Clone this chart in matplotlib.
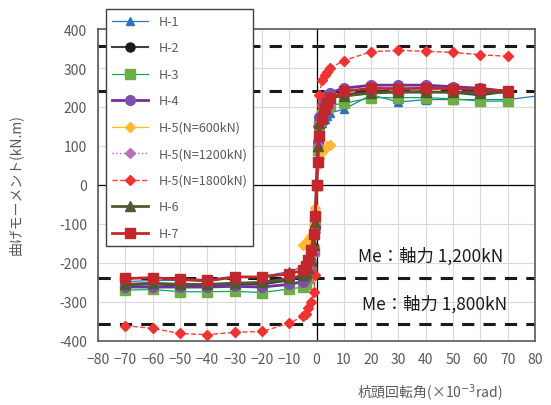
import numpy as np
import matplotlib.pyplot as plt

plt.rcParams['font.family'] = ['Noto Sans CJK JP', 'DejaVu Sans']

# rotation angle (x10^-3 rad) and moment (kN.m)
x_full = [-70, -60, -50, -40, -30, -20, -10, -5, -4, -3, -2, -1, -0.5, 0,
          0.5, 1, 2, 3, 4, 5, 10, 20, 30, 40, 50, 60, 70]
x_h1 = x_full + [85]
x_near = [-5, -4, -3, -2, -1, -0.5, 0, 0.5, 1, 2, 3, 4, 5]

h1 = [-248, -245, -245, -248, -238, -235, -222, -210, -200, -185, -160, -120, -70, 0,
      70, 130, 160, 170, 176, 185, 194, 231, 213, 219, 219, 219, 219, 232]
h2 = [-257, -255, -258, -258, -255, -255, -245, -235, -228, -215, -195, -160, -100, 0,
      100, 165, 195, 210, 218, 225, 232, 240, 240, 240, 237, 230, 240]
h3 = [-270, -268, -274, -274, -273, -276, -267, -262, -255, -240, -215, -170, -100, 0,
      90, 150, 180, 195, 200, 205, 209, 224, 224, 224, 221, 215, 215]
h4 = [-262, -262, -262, -262, -260, -262, -255, -248, -240, -225, -205, -170, -110, 0,
      110, 175, 205, 222, 230, 237, 248, 256, 256, 256, 252, 248, 240]
h5_600 = [-155, -148, -140, -130, -100, -60, 0, 50, 70, 85, 95, 100, 103]
h5_1200 = [-230, -222, -210, -195, -170, -120, 0, 100, 160, 185, 195, 200, 205]
h5_1800 = [-361, -368, -381, -384, -378, -376, -355, -337, -330, -315, -300, -274, -230, 0,
           150, 232, 269, 282, 290, 300, 319, 342, 345, 343, 340, 334, 330]
h6 = [-255, -252, -255, -255, -252, -250, -240, -232, -225, -212, -192, -155, -95, 0,
      100, 160, 192, 208, 218, 225, 228, 236, 238, 238, 238, 237, 238]
h7 = [-240, -238, -242, -245, -236, -236, -228, -219, -208, -192, -166, -125, -80, 0,
      60, 125, 170, 195, 210, 222, 240, 248, 247, 248, 247, 245, 241]

me_levels = [240, 357]

fig = plt.figure(figsize=(5.51, 4.06), dpi=100)
ax = fig.add_axes([0.178, 0.158, 0.793, 0.768])

ax.grid(True, color='#d9d9d9', linewidth=0.8)
ax.set_axisbelow(True)
ax.axhline(0, color='black', linewidth=0.9, zorder=1)
ax.axvline(0, color='black', linewidth=0.9, zorder=1)

for m in me_levels:
    for s in (1, -1):
        ax.axhline(s * m, color='#1a1a1a', linewidth=2.2, linestyle=(0, (4, 3)), zorder=2)

ax.plot(x_h1, h1, '-^', color='#2e75b6', lw=0.9, ms=6, label='H-1')
ax.plot(x_full, h2, '-o', color='#404040', mfc='#1a1a1a', mec='#1a1a1a', lw=1.5, ms=6.5, label='H-2')
ax.plot(x_full, h3, '-s', color='#00b050', mfc='#70ad47', mec='#70ad47', lw=0.9, ms=6.5, label='H-3')
ax.plot(x_full, h4, '-o', color='#7030a0', mfc='#7f4fb0', mec='#7f4fb0', lw=2, ms=7, label='H-4')
ax.plot(x_near, h5_600, '-D', color='#ffc000', mfc='#ffb833', mec='#ffb833', lw=0.9, ms=5, label='H-5(N=600kN)')
ax.plot(x_near, h5_1200, ':D', color='#c05fc0', mfc='#b870b8', mec='#b870b8', lw=1, ms=5, label='H-5(N=1200kN)')
ax.plot(x_full, h5_1800, '--D', color='#ff4040', mfc='#ee3333', mec='#ee3333', lw=1, ms=5.5, label='H-5(N=1800kN)')
ax.plot(x_full, h6, '-^', color='#4f5a2f', lw=2, ms=6.5, label='H-6')
ax.plot(x_full, h7, '-s', color='#c0282d', mfc='#c0282d', lw=2, ms=7, label='H-7')

ax.set_xlim(-80, 80)
ax.set_ylim(-400, 400)
ax.set_xticks(np.arange(-80, 81, 10))
ax.set_xticklabels([str(v).replace('-', '\u2212') for v in range(-80, 81, 10)])
ax.set_yticks(np.arange(-400, 401, 100))
ax.set_yticklabels([str(v) for v in range(-400, 401, 100)])
ax.tick_params(length=0, labelsize=10, colors='#595959', pad=8)
for sp in ax.spines.values():
    sp.set_color('#595959')
    sp.set_linewidth(1.2)

ax.text(41.8, -180, 'Me：軸力 1,200kN', fontsize=12.5, ha='center', va='center', color='#1a1a1a')
ax.text(43.3, -305, 'Me：軸力 1,800kN', fontsize=12.5, ha='center', va='center', color='#1a1a1a')

fig.text(0.78, 0.02, '杭頭回転角(×10$^{-3}$rad)', fontsize=10, color='#595959', ha='center')
fig.text(0.028, 0.545, '曲げモーメント(kN.m)', fontsize=10, color='#595959', rotation=90,
         ha='center', va='center')

leg = fig.legend(loc='upper left', bbox_to_anchor=(0.192, 0.976), fontsize=9,
                 frameon=True, fancybox=False, framealpha=1, edgecolor='#404040',
                 labelspacing=1.08, handlelength=2.9, borderpad=0.5, borderaxespad=0)
for t in leg.get_texts():
    t.set_color('#595959')
leg.get_frame().set_linewidth(1)

fig.savefig('out.png', dpi=100)
